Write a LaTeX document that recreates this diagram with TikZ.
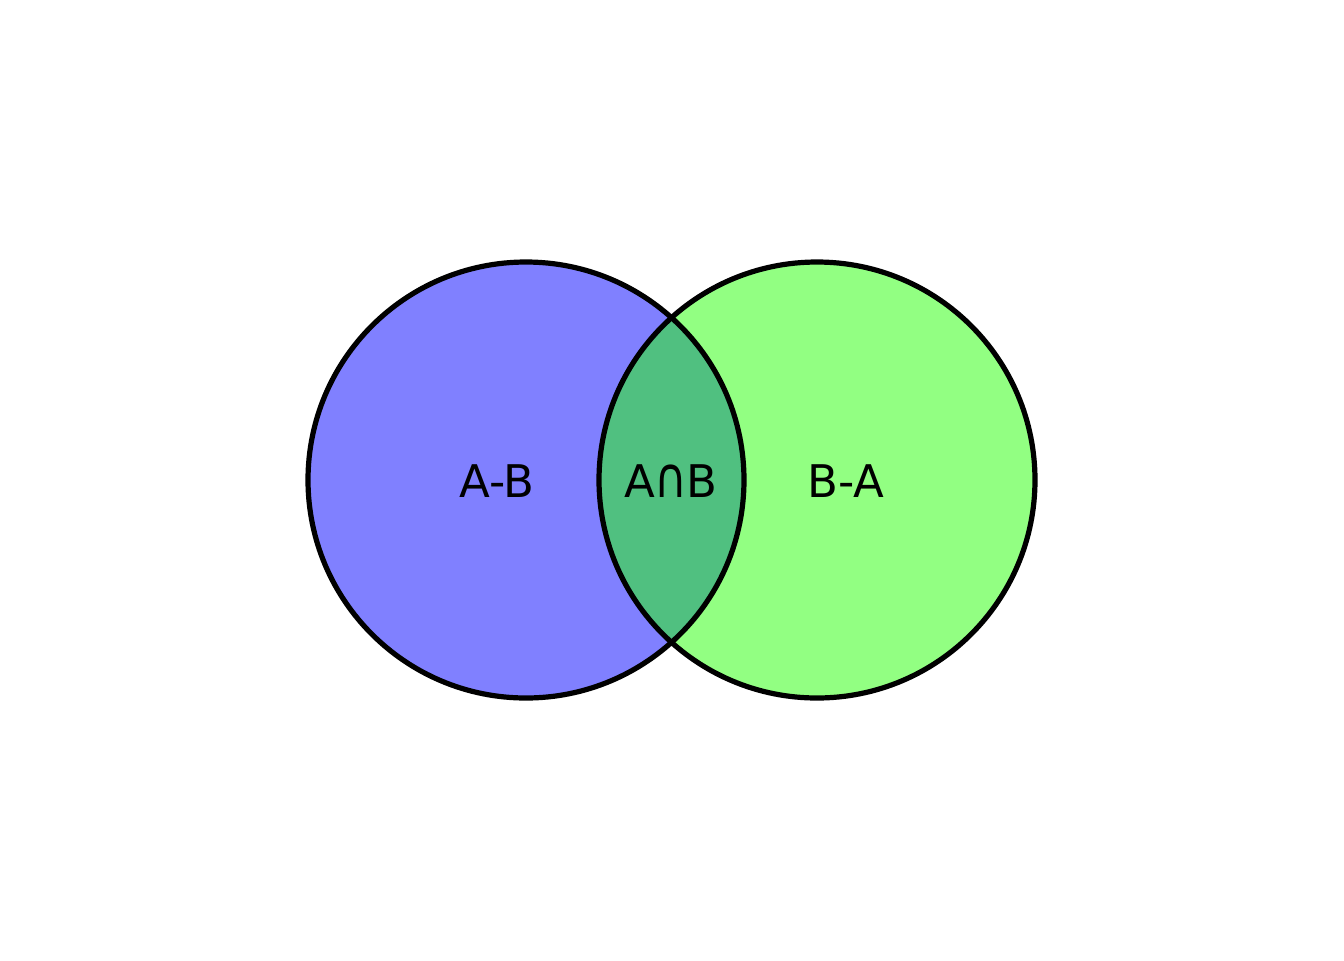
\documentclass[tikz,border=0pt]{standalone}
\usepackage{fontspec}
\setmainfont{DejaVu Sans}
\definecolor{setA}{HTML}{8080FF}
\definecolor{setB}{HTML}{92FF82}
\definecolor{setAB}{HTML}{50C080}
\newcommand{\bigcapglyph}{\kern-0.01em\scalebox{1.0}[1.25]{∩}\kern-0.01em}
\begin{document}
\begin{tikzpicture}[x=0.5pt,y=-0.5pt,
  outline/.style={draw=black,line width=2.6pt},
  lbl/.style={font=\fontsize{22.5}{27}\selectfont,text=black,inner sep=0pt}]
\useasboundingbox (0,0) rectangle (1344,960);
\fill[setA] (526,480) circle[radius=218];
\fill[setB] (817,480) circle[radius=218];
\begin{scope}
  \clip (526,480) circle[radius=218];
  \fill[setAB] (817,480) circle[radius=218];
\end{scope}
\draw[outline] (526,480) circle[radius=218];
\draw[outline] (817,480) circle[radius=218];
\node[lbl,anchor=base] (amb) at (497,497) {A-B};
\node[lbl,anchor=base] (aib) at (671,497) {A\bigcapglyph B};
\node[lbl,anchor=base] (bma) at (846,497) {B-A};
\end{tikzpicture}
\end{document}
